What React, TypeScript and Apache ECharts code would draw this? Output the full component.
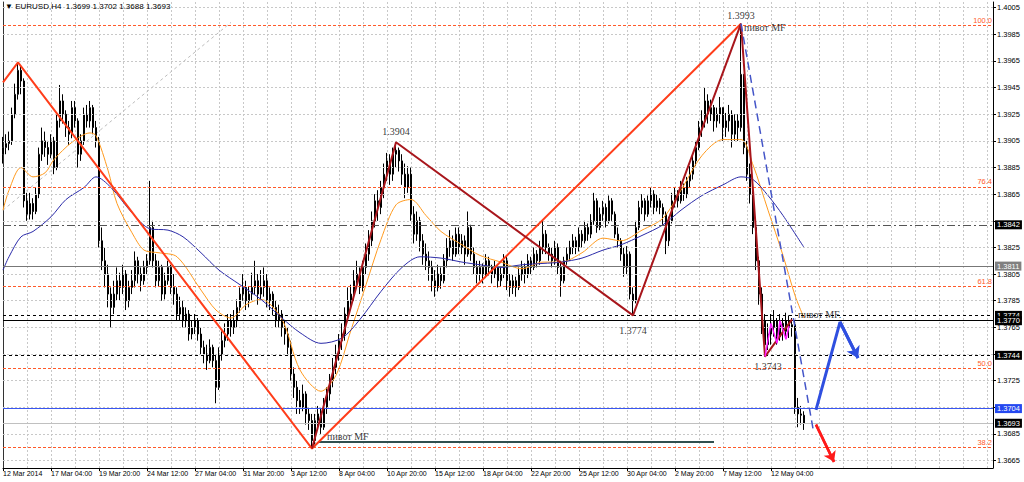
import React, { useEffect, useRef } from 'react';
import * as echarts from 'echarts';

// ---------- data (prices stored as pips above 1.3000) ----------
const BAR_SLOTS = 331;
const xTickLabels = [
  '12 Mar 2014', '17 Mar 04:00', '19 Mar 20:00', '24 Mar 12:00', '27 Mar 04:00',
  '31 Mar 20:00', '3 Apr 12:00', '8 Apr 04:00', '10 Apr 20:00', '15 Apr 12:00',
  '18 Apr 04:00', '22 Apr 20:00', '25 Apr 12:00', '30 Apr 04:00', '2 May 20:00',
  '7 May 12:00', '12 May 04:00',
];
const yTicks = [
  1.3665, 1.3685, 1.3705, 1.3725, 1.3745, 1.3765, 1.3785, 1.3805, 1.3825,
  1.3845, 1.3865, 1.3885, 1.3905, 1.3925, 1.3945, 1.3965, 1.3985, 1.4005,
];
// tick labels left visible (the others sit under the price boxes)
const yTickLabels = [
  1.3665, 1.3685, 1.3725, 1.3765, 1.3785, 1.3805, 1.3825,
  1.3865, 1.3885, 1.3905, 1.3925, 1.3945, 1.3965, 1.3985, 1.4005,
];

const firstOpen = 895;
const closes = [
  900, 903, 905, 925, 940, 958, 950, 860,
  850, 858, 852, 865, 895, 905, 900, 895,
  905, 885, 920, 935, 925, 915, 910, 930,
  920, 895, 905, 925, 920, 930, 915, 905,
  830, 815, 805, 790, 780, 790, 800, 795,
  805, 785, 795, 800, 815, 805, 800, 810,
  815, 840, 815, 800, 810, 790, 800, 810,
  795, 790, 775, 780, 770, 775, 760, 765,
  770, 760, 750, 745, 740, 750, 740, 720,
  745, 755, 760, 770, 765, 770, 780, 790,
  795, 785, 790, 795, 800, 790, 795, 800,
  785, 790, 780, 770, 775, 765, 760, 750,
  730, 720, 710, 705, 715, 700, 695, 680,
  695, 700, 690, 705, 715, 725, 735, 745,
  755, 760, 775, 785, 790, 800, 805, 795,
  810, 820, 830, 845, 860, 855, 870, 880,
  890, 880, 895, 898, 890, 880, 870, 880,
  850, 835, 845, 830, 820, 815, 810, 800,
  795, 805, 800, 815, 825, 830, 820, 835,
  825, 830, 820, 840, 820, 810, 805, 810,
  805, 815, 810, 805, 810, 800, 805, 815,
  800, 795, 800, 795, 805, 810, 805, 815,
  810, 820, 815, 825, 835, 825, 820, 815,
  825, 810, 800, 815, 820, 825, 830, 825,
  835, 830, 840, 835, 845, 860, 840, 850,
  855, 845, 860, 850, 835, 830, 820, 810,
  820, 790, 785, 840, 855, 860, 850, 860,
  865, 855, 860, 855, 850, 830, 845, 860,
  865, 860, 870, 865, 875, 880, 890, 900,
  915, 920, 935, 925, 930, 920, 925, 930,
  915, 920, 925, 910, 920, 915, 955, 900,
  880, 865, 840, 815, 790, 770, 752, 760,
  765, 770, 758, 768, 762, 770, 765, 767,
  705, 700, 699, 693,
];
const highs = [
  908, 910, 912, 930, 948, 964, 962, 952,
  866, 866, 862, 870, 900, 915, 912, 905,
  910, 908, 925, 947, 940, 928, 920, 935,
  935, 922, 910, 930, 932, 935, 932, 920,
  908, 840, 825, 812, 795, 800, 810, 806,
  812, 808, 800, 808, 822, 818, 810, 815,
  820, 875, 845, 820, 815, 812, 806, 815,
  812, 805, 795, 788, 785, 780, 778, 770,
  775, 772, 765, 755, 752, 756, 752, 745,
  750, 762, 768, 775, 775, 778, 786, 795,
  805, 800, 796, 806, 815, 805, 808, 810,
  805, 795, 792, 785, 782, 778, 770, 765,
  755, 735, 725, 718, 722, 717, 705, 700,
  700, 706, 705, 712, 720, 730, 742, 752,
  760, 768, 780, 795, 797, 808, 815, 810,
  815, 828, 838, 852, 865, 868, 875, 888,
  896, 895, 900, 904, 900, 895, 888, 886,
  885, 856, 852, 848, 835, 828, 822, 815,
  808, 812, 810, 820, 832, 838, 834, 840,
  840, 835, 834, 852, 842, 825, 815, 815,
  813, 820, 818, 812, 815, 812, 810, 820,
  818, 805, 805, 803, 810, 815, 813, 820,
  818, 825, 823, 830, 845, 838, 828, 825,
  830, 828, 815, 818, 825, 830, 835, 833,
  840, 838, 845, 843, 850, 866, 862, 855,
  860, 858, 864, 862, 852, 840, 832, 825,
  826, 822, 795, 845, 860, 865, 862, 864,
  870, 868, 865, 862, 858, 852, 848, 866,
  870, 868, 875, 873, 878, 886, 895, 905,
  920, 928, 945, 940, 936, 932, 930, 938,
  930, 926, 932, 928, 925, 925, 993, 955,
  905, 888, 870, 845, 818, 795, 775, 768,
  775, 778, 772, 775, 772, 776, 774, 772,
  770, 712, 706, 702,
];
const lows = [
  888, 895, 898, 902, 922, 936, 940, 855,
  845, 846, 846, 850, 862, 890, 893, 887,
  892, 880, 883, 915, 918, 908, 902, 907,
  915, 885, 890, 902, 915, 915, 910, 900,
  825, 808, 795, 780, 765, 775, 785, 785,
  790, 778, 780, 790, 795, 798, 792, 797,
  805, 812, 810, 795, 796, 785, 786, 797,
  790, 782, 770, 770, 765, 765, 755, 756,
  760, 755, 745, 738, 733, 738, 735, 708,
  718, 740, 750, 755, 758, 760, 765, 776,
  785, 778, 780, 785, 790, 782, 786, 788,
  780, 778, 774, 765, 765, 758, 752, 745,
  725, 712, 700, 700, 702, 692, 688, 674,
  677, 688, 685, 688, 700, 710, 720, 730,
  740, 748, 755, 770, 778, 785, 795, 790,
  792, 805, 815, 826, 840, 845, 850, 862,
  875, 872, 875, 885, 882, 872, 862, 866,
  845, 828, 830, 822, 812, 808, 800, 792,
  788, 792, 794, 798, 810, 818, 815, 818,
  820, 820, 812, 818, 815, 805, 798, 800,
  798, 802, 804, 798, 802, 795, 796, 802,
  793, 788, 790, 788, 793, 800, 798, 802,
  805, 808, 810, 812, 820, 820, 815, 810,
  812, 805, 788, 798, 812, 815, 820, 820,
  822, 825, 828, 830, 832, 842, 836, 838,
  845, 840, 843, 845, 832, 825, 815, 803,
  805, 786, 774, 783, 838, 850, 845, 848,
  855, 850, 852, 850, 842, 820, 826, 843,
  855, 855, 858, 860, 862, 870, 876, 886,
  898, 908, 915, 918, 920, 912, 915, 918,
  905, 908, 912, 900, 905, 905, 912, 895,
  875, 858, 835, 808, 782, 760, 743, 748,
  752, 758, 752, 755, 755, 758, 757, 758,
  700, 690, 692, 688,
];

// moving averages: [bar, pips]
const orangeMA = [
  [0, 853], [2, 868], [6, 885], [10, 878], [14, 881], [17, 891], [23, 904], [29, 911],
  [31, 909], [35, 883], [38, 858], [43, 836], [47, 823], [52, 821], [58, 818], [66, 793],
  [71, 778], [76, 772], [81, 782], [86, 786], [93, 771], [99, 733], [106, 717], [111, 729],
  [116, 763], [121, 797], [126, 831], [131, 857], [136, 861], [141, 849], [146, 837],
  [153, 827], [159, 819], [166, 814], [173, 809], [180, 814], [186, 814], [193, 821],
  [200, 832], [206, 830], [213, 838], [220, 847], [226, 868], [233, 894], [240, 906],
  [246, 906], [250, 887], [255, 853], [260, 819], [264, 789], [267, 772],
];
const blueMA = [
  [0, 808], [2, 818], [6, 833], [10, 837], [16, 848], [21, 861], [27, 870], [31, 878],
  [36, 870], [43, 851], [49, 839], [55, 838], [60, 833], [66, 821], [72, 808], [79, 797],
  [86, 786], [93, 772], [99, 761], [106, 753], [113, 757], [119, 771], [126, 792],
  [133, 810], [139, 818], [146, 817], [153, 814], [159, 812], [166, 810], [173, 812],
  [180, 813], [186, 814], [193, 817], [200, 823], [206, 827], [213, 834], [220, 842],
  [226, 853], [233, 864], [240, 872], [246, 878], [250, 876], [255, 864], [260, 849],
  [267, 825],
];

// drawn objects: [bar, pips]
const redZigzag = [[0, 949], [5, 964], [103, 674], [246, 993]];
const darkRedZigzag = [[103, 674], [131, 904], [210, 774], [246, 993], [254, 743], [263, 771]];
const magentaZigzag = [[254, 743], [256, 768], [258, 753], [259, 770], [261, 756], [262, 766]];
const blueDashed = [[246, 993], [270, 689]];
const greyDiagonal = [[0, 853], [76, 994]];
const pivotSegment = [[105, 679], [237, 679]];
const blueArrow = [[271, 703], [279, 769], [285, 742]];
const redArrow = [[271, 692], [277, 664]];

const fibLevels = [
  { name: '100.0', pips: 992 },
  { name: '76.4', pips: 870.5 },
  { name: '61.8', pips: 795.5 },
  { name: '50.0', pips: 734 },
  { name: '38.2', pips: 675 },
];
const priceLevels = [
  { pips: 842, kind: 'dashdot' },
  { pips: 811, kind: 'grey' },
  { pips: 774, kind: 'dotted' },
  { pips: 770, kind: 'solid' },
  { pips: 744, kind: 'dotted' },
  { pips: 704, kind: 'blue' },
  { pips: 693, kind: 'bid' },
];
const annotations = [
  { text: '1.3993', bar: 246, pips: 999.5, align: 'center' },
  { text: 'пивот MF', bar: 247, pips: 990.5, align: 'left' },
  { text: '1.3904', bar: 131, pips: 912.4, align: 'center' },
  { text: '1.3774', bar: 210, pips: 763, align: 'center' },
  { text: '1.3743', bar: 255, pips: 735.4, align: 'center' },
  { text: 'пивот MF.', bar: 265, pips: 775, align: 'left' },
  { text: 'пивот MF', bar: 108, pips: 682.7, align: 'left' },
];
const titleText = '\u25BC EURUSD,H4  1.3699 1.3702 1.3688 1.3693';

// ---------- helpers ----------
const toPrice = (p: number) => +(1.3 + p / 10000).toFixed(5);
const pts = (arr: number[][]) => arr.map(([b, p]) => [b, toPrice(p)]);

const categories = Array.from({ length: BAR_SLOTS }, (_, i) => String(i));
const isLabelIdx = (i: number) => i % 16 === 0 && i / 16 < xTickLabels.length;

const candleData = closes.map((c, i) => {
  const o = i === 0 ? firstOpen : closes[i - 1];
  const h = Math.max(highs[i], o, c);
  const l = Math.min(lows[i], o, c);
  return [toPrice(o), toPrice(c), toPrice(l), toPrice(h)];
});

const levelStyle: Record<string, any> = {
  dashdot: { line: { color: '#555', type: [8, 3, 2, 3], width: 1 }, bg: '#000' },
  grey: { line: { color: '#777', type: 'solid', width: 1 }, bg: '#808080' },
  dotted: { line: { color: '#000', type: [3, 3], width: 1 }, bg: '#000' },
  solid: { line: { color: '#000', type: 'solid', width: 1 }, bg: '#000' },
  blue: { line: { color: '#3a56f0', type: 'solid', width: 1 }, bg: '#2448f0' },
  bid: { line: { color: '#c0c0c0', type: 'solid', width: 1 }, bg: '#000' },
};

const FONT = 'Liberation Sans';
const SERIF = 'Liberation Serif';
const Y_MIN = 1.36594;
const Y_MAX = 1.40093;

const option: any = {
  animation: false,
  backgroundColor: '#ffffff',
  grid: { left: 3, right: 31, top: 2, bottom: 14, containLabel: false },
  graphic: [
    {
      type: 'text',
      left: 5,
      top: 2,
      z: 100,
      style: { text: titleText, font: `8px "${FONT}"`, fill: '#000' },
    },
  ],
  xAxis: {
    type: 'category',
    data: categories,
    boundaryGap: false,
    axisLine: { show: true, lineStyle: { color: '#000', width: 1 } },
    axisTick: {
      show: true,
      interval: (i: number) => isLabelIdx(i),
      length: 3,
      lineStyle: { color: '#000' },
    },
    axisLabel: {
      show: true,
      interval: (i: number) => isLabelIdx(i),
      formatter: (_v: string, i: number) => (isLabelIdx(i) ? xTickLabels[i / 16] : ''),
      align: 'left',
      margin: 2,
      fontSize: 7,
      fontFamily: FONT,
      color: '#000',
    },
    splitLine: {
      show: true,
      interval: (i: number) => i % 8 === 0,
      lineStyle: { color: '#c8c8c8', type: [2, 2], width: 1 },
    },
  },
  yAxis: [
    {
      type: 'value',
      position: 'right',
      min: Y_MIN,
      max: Y_MAX,
      scale: true,
      splitLine: { show: false },
      axisLine: { show: true, lineStyle: { color: '#000', width: 1 } },
      axisTick: { show: true, customValues: yTicks, length: 3, lineStyle: { color: '#000' } },
      axisLabel: {
        show: true,
        customValues: yTickLabels,
        formatter: (v: number) => v.toFixed(4),
        fontSize: 7.5,
        fontFamily: FONT,
        color: '#000',
        margin: 4,
      },
    },
    {
      type: 'value',
      position: 'left',
      min: Y_MIN,
      max: Y_MAX,
      scale: true,
      splitLine: { show: false },
      axisLine: { show: true, lineStyle: { color: '#333', width: 1 } },
      axisTick: { show: false },
      axisLabel: { show: false },
    },
  ],
  series: [
    {
      name: 'grid',
      type: 'line',
      z: 1,
      silent: true,
      symbol: 'none',
      data: pts(greyDiagonal),
      lineStyle: { color: '#bdbdbd', type: [3, 3], width: 1 },
      markLine: {
        silent: true,
        precision: 5,
        symbol: ['none', 'none'],
        label: { show: false },
        lineStyle: { color: '#c8c8c8', type: [2, 2], width: 1 },
        data: yTicks.map((v) => ({ yAxis: v })),
      },
    },
    {
      name: 'EURUSD',
      type: 'candlestick',
      z: 2,
      barWidth: 2,
      data: candleData,
      itemStyle: {
        color: '#ffffff',
        color0: '#000000',
        borderColor: '#000000',
        borderColor0: '#000000',
        borderWidth: 1,
      },
    },
    {
      name: 'MA fast',
      type: 'line',
      z: 3,
      symbol: 'none',
      smooth: 0.3,
      data: pts(orangeMA),
      lineStyle: { color: '#ff9a1f', width: 1 },
    },
    {
      name: 'MA slow',
      type: 'line',
      z: 3,
      symbol: 'none',
      smooth: 0.3,
      data: pts(blueMA),
      lineStyle: { color: '#2a2aa8', width: 1 },
    },
    {
      name: 'levels',
      type: 'line',
      z: 4,
      clip: false,
      symbol: 'none',
      data: pts(pivotSegment),
      lineStyle: { color: '#2f4f4f', width: 2 },
      markLine: {
        silent: true,
        precision: 5,
        symbol: ['none', 'none'],
        data: [
          ...fibLevels.map((f) => ({
            yAxis: toPrice(f.pips),
            lineStyle: { color: '#ff5a2a', type: [3, 2], width: 1 },
            label: {
              show: true,
              position: 'insideEndTop',
              formatter: f.name,
              color: '#ff5a2a',
              fontSize: 7.5,
              fontFamily: FONT,
              distance: 1,
            },
          })),
          ...priceLevels.map((l) => ({
            yAxis: toPrice(l.pips),
            lineStyle: levelStyle[l.kind].line,
            label: {
              show: true,
              position: 'end',
              formatter: toPrice(l.pips).toFixed(4),
              color: '#fff',
              backgroundColor: levelStyle[l.kind].bg,
              padding: [1, 2, 0, 2],
              fontSize: 7.5,
              fontFamily: FONT,
              distance: 2,
            },
          })),
        ],
      },
    },
    {
      name: 'zigzag',
      type: 'line',
      z: 5,
      symbol: 'none',
      data: pts(redZigzag),
      lineStyle: { color: '#ff3d1a', width: 2 },
    },
    {
      name: 'zigzag2',
      type: 'line',
      z: 5,
      symbol: 'none',
      data: pts(darkRedZigzag),
      lineStyle: { color: '#a8161c', width: 2 },
    },
    {
      name: 'zigzag3',
      type: 'line',
      z: 5,
      symbol: 'none',
      data: pts(magentaZigzag),
      lineStyle: { color: '#ff1aff', width: 1.5 },
    },
    {
      name: 'trend',
      type: 'line',
      z: 5,
      symbol: 'none',
      data: pts(blueDashed),
      lineStyle: { color: '#4455c8', width: 1.5, type: [8, 5] },
    },
    {
      name: 'blueArrow',
      type: 'line',
      z: 6,
      clip: false,
      symbol: 'none',
      data: pts(blueArrow),
      lineStyle: { color: '#2f4fe0', width: 3 },
      markLine: {
        silent: true,
        precision: 5,
        lineStyle: { color: '#2f4fe0', width: 3, type: 'solid' },
        label: { show: false },
        data: [
          [
            { coord: pts(blueArrow)[1], symbol: 'none' },
            { coord: pts(blueArrow)[2], symbol: 'arrow', symbolSize: 11 },
          ],
        ],
      },
    },
    {
      name: 'redArrow',
      type: 'line',
      z: 6,
      clip: false,
      symbol: 'none',
      data: pts(redArrow),
      lineStyle: { color: '#ff1a1a', width: 2.5 },
      markLine: {
        silent: true,
        precision: 5,
        lineStyle: { color: '#ff1a1a', width: 2.5, type: 'solid' },
        label: { show: false },
        data: [
          [
            { coord: pts(redArrow)[0], symbol: 'none' },
            { coord: pts(redArrow)[1], symbol: 'arrow', symbolSize: 10 },
          ],
        ],
      },
    },
    {
      name: 'notes',
      type: 'scatter',
      z: 7,
      silent: true,
      symbolSize: 0.1,
      itemStyle: { color: 'rgba(0,0,0,0)' },
      data: annotations.map((a) => ({
        value: [a.bar, toPrice(a.pips)],
        label: {
          show: true,
          formatter: a.text,
          position: a.align === 'left' ? 'right' : 'inside',
          distance: 0,
          color: '#000',
          fontSize: 10,
          fontFamily: SERIF,
        },
      })),
    },
  ],
};

export default function App() {
  const ref = useRef<HTMLDivElement>(null);
  useEffect(() => {
    if (!ref.current) return;
    const chart = echarts.init(ref.current, null, { renderer: 'svg' });
    chart.setOption(option);
    return () => chart.dispose();
  }, []);
  return (
    <div
      ref={ref}
      style={{ position: 'absolute', left: 0, top: 0, width: 1024, height: 482, background: '#fff' }}
    />
  );
}
